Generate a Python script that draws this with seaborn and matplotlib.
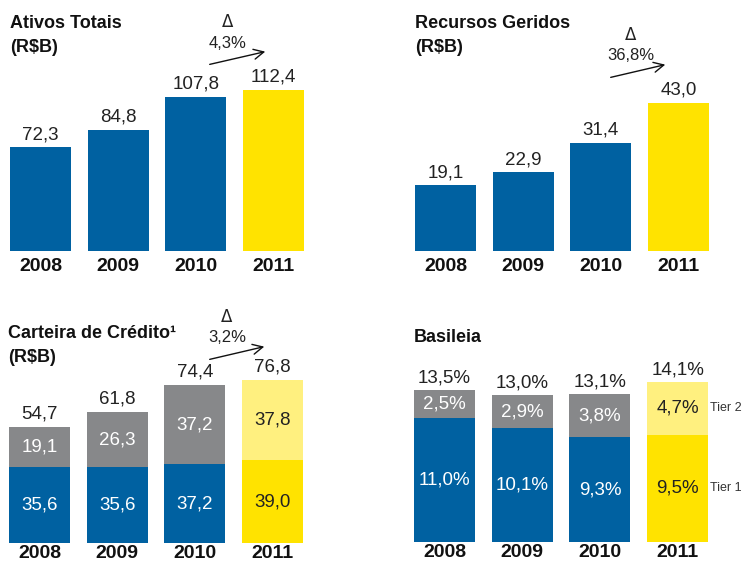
import matplotlib
matplotlib.use('Agg')
import matplotlib.pyplot as plt
import seaborn as sns

sns.set_theme(style='white')
plt.rcParams['font.family'] = ['Liberation Sans', 'DejaVu Sans']

# Data
years = ['2008', '2009', '2010', '2011']
ativos = [72.3, 84.8, 107.8, 112.4]
recursos = [19.1, 22.9, 31.4, 43.0]
credito_base = [35.6, 35.6, 37.2, 39.0]
credito_top = [19.1, 26.3, 37.2, 37.8]
credito_total = [54.7, 61.8, 74.4, 76.8]
tier1 = [11.0, 10.1, 9.3, 9.5]
tier2 = [2.5, 2.9, 3.8, 4.7]
basileia_total = [13.5, 13.0, 13.1, 14.1]
deltas = ['4,3%', '36,8%', '3,2%']

BLUE = '#0061A1'
YELLOW = '#FFE300'
GRAY = '#87888A'
LYELLOW = '#FFF07F'
TXT = '#222222'

W, H = 742, 562
fig = plt.figure(figsize=(W / 100, H / 100), dpi=100)


def fx(x, y):
    return (x / W, 1 - y / H)


def make_ax(c0, top, base, pitch=77.7):
    left = c0 - 0.5 * pitch
    return fig.add_axes([left / W, 1 - base / H, 4 * pitch / W, (base - top) / H])


def fmt(v, pct=False):
    s = f'{v:.1f}'.replace('.', ',')
    return s + '%' if pct else s


def bars(ax, vals, pal):
    sns.barplot(x=years, y=vals, hue=years, palette=pal, width=0.785,
                legend=False, ax=ax, saturation=1, linewidth=0)


def style(ax, ymax, pad):
    ax.set_xlim(-0.5, 3.5)
    ax.set_ylim(0, ymax)
    sns.despine(ax=ax, left=True, bottom=True)
    ax.set_yticks([])
    ax.set_xlabel('')
    ax.set_ylabel('')
    ax.tick_params(axis='x', length=0, pad=pad)
    for lab in ax.get_xticklabels():
        lab.set_fontsize(14)
        lab.set_fontweight('bold')
        lab.set_color('#111111')


def arrow(x0, y0, x1, y1, label, tx):
    fig.add_artist(plt.Annotation('', xy=fx(x1, y1), xytext=fx(x0, y0),
                                  xycoords='figure fraction', textcoords='figure fraction',
                                  arrowprops=dict(arrowstyle='->', color='#111111', lw=1,
                                                  mutation_scale=18)))
    fig.text(*fx(tx, y0 - 43), '\u0394', ha='center', va='center', fontsize=12,
             color=TXT, family=['DejaVu Sans'])
    fig.text(*fx(tx, y0 - 22), label, ha='center', va='center', fontsize=12, color=TXT)


def title(x, y, lines):
    for i, t in enumerate(lines):
        fig.text(*fx(x, y + i * 25), t, ha='left', va='center', fontsize=13,
                 fontweight='bold', color='#111111')


simple_pal = [BLUE, BLUE, BLUE, YELLOW]
top_pal = [GRAY, GRAY, GRAY, LYELLOW]
VAL_FS = 13.5

# Ativos Totais
ymax1 = 251 / 1.432
ax1 = make_ax(40.5, 0, 251)
bars(ax1, ativos, simple_pal)
for i, v in enumerate(ativos):
    ax1.text(i, v + 3, fmt(v), ha='center', va='bottom', fontsize=VAL_FS, color=TXT)
style(ax1, ymax1, 5)
title(10, 23, ['Ativos Totais', '(R$B)'])
arrow(207, 65, 268, 51, deltas[0], 228)

# Recursos Geridos
ymax2 = 251 / 3.44
ax2 = make_ax(445.5, 0, 251)
bars(ax2, recursos, simple_pal)
for i, v in enumerate(recursos):
    ax2.text(i, v + 1.2, fmt(v), ha='center', va='bottom', fontsize=VAL_FS, color=TXT)
style(ax2, ymax2, 5)
title(415, 23, ['Recursos Geridos', '(R$B)'])
arrow(608, 78, 668, 64, deltas[1], 631)

# Carteira de Credito (stacked: full bar behind, base bar in front)
credito_sum = [b + t for b, t in zip(credito_base, credito_top)]
ymax3 = 263 / 2.122
ax3 = make_ax(39.5, 280, 543)
bars(ax3, credito_sum, top_pal)
bars(ax3, credito_base, simple_pal)
for i in range(4):
    b, t = credito_base[i], credito_top[i]
    inner = TXT if i == 3 else 'white'
    ax3.text(i, b / 2, fmt(b), ha='center', va='center', fontsize=VAL_FS, color=inner)
    ax3.text(i, b + t / 2, fmt(t), ha='center', va='center', fontsize=VAL_FS, color=inner)
    ax3.text(i, b + t + 2, fmt(credito_total[i]), ha='center', va='bottom',
             fontsize=VAL_FS, color=TXT)
style(ax3, ymax3, 1.5)
title(8, 333, ['Carteira de Crédito\u00b9', '(R$B)'])
arrow(207, 360, 267, 346, deltas[2], 227)

# Basileia
basileia_sum = [a + b for a, b in zip(tier1, tier2)]
ymax4 = 262 / 11.28
ax4 = make_ax(444.5, 280, 542)
bars(ax4, basileia_sum, top_pal)
bars(ax4, tier1, simple_pal)
for i in range(4):
    b, t = tier1[i], tier2[i]
    inner = TXT if i == 3 else 'white'
    ax4.text(i, b / 2, fmt(b, True), ha='center', va='center', fontsize=VAL_FS, color=inner)
    ax4.text(i, b + t / 2, fmt(t, True), ha='center', va='center', fontsize=VAL_FS, color=inner)
    ax4.text(i, b + t + 0.3, fmt(basileia_total[i], True), ha='center', va='bottom',
             fontsize=VAL_FS, color=TXT)
ax4.text(3.42, tier1[3] + tier2[3] / 2, 'Tier 2', ha='left', va='center', fontsize=9,
         color='#333333', clip_on=False)
ax4.text(3.42, tier1[3] / 2, 'Tier 1', ha='left', va='center', fontsize=9,
         color='#333333', clip_on=False)
style(ax4, ymax4, 1.5)
title(414, 338, ['Basileia'])

fig.savefig('out.png', dpi=100)
